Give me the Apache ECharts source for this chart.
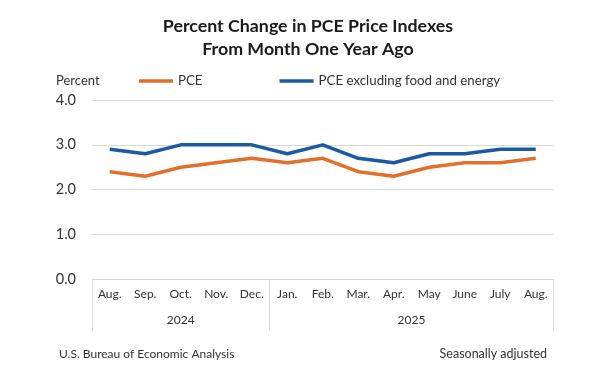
<!DOCTYPE html>
<html><head><meta charset="utf-8">
<script src="https://cdn.jsdelivr.net/npm/echarts@6/dist/echarts.min.js"></script>
<style>html,body{margin:0;padding:0;background:#fff}#c{width:600px;height:385px}</style>
</head><body><div id="c"></div>
<script>
const months = ['Aug.','Sep.','Oct.','Nov.','Dec.','Jan.','Feb.','Mar.','Apr.','May','June','July','Aug.'];
const years = ['2024','2025'];
const yearCounts = [5, 8];
const pce = [2.4,2.3,2.5,2.6,2.7,2.6,2.7,2.4,2.3,2.5,2.6,2.6,2.7];
const core = [2.9,2.8,3.0,3.0,3.0,2.8,3.0,2.7,2.6,2.8,2.8,2.9,2.9];
const yMin = 0, yMax = 4, yStep = 1;

const bounds = [0];
yearCounts.forEach(c => bounds.push(bounds[bounds.length-1] + c));
const centers = years.map((y,i) => (bounds[i] + bounds[i+1]) / 2);

const FONT = 'Lato';
const TXT = '#333333';
const GRID = '#d9d9d9';

const chart = echarts.init(document.getElementById('c'), null, {renderer:'canvas'});
chart.setOption({
  animation: false,
  textStyle: {fontFamily: FONT},
  title: [
    {text: 'Percent Change in PCE Price Indexes\nFrom Month One Year Ago', left: 308, top: 15, textAlign: 'center', padding: 0,
     textStyle: {fontFamily: FONT, fontWeight: 'bold', fontSize: 17.8, lineHeight: 23, color: '#1a1a1a'}},
    {text: 'Percent', left: 56, top: 73, padding: 0, textStyle: {fontFamily: FONT, fontWeight: 'normal', fontSize: 13, lineHeight: 16, color: TXT}},
    {text: 'U.S. Bureau of Economic Analysis', left: 59, top: 347, padding: 0, textStyle: {fontFamily: FONT, fontWeight: 'normal', fontSize: 12, lineHeight: 14, color: TXT}},
    {text: 'Seasonally adjusted', right: 53, top: 347, padding: 0, textStyle: {fontFamily: FONT, fontWeight: 'normal', fontSize: 12.5, lineHeight: 14, color: TXT}}
  ],
  legend: {
    left: 139, top: 73, padding: 0, itemGap: 77, itemWidth: 34, itemHeight: 3.5, icon: 'rect',
    textStyle: {fontFamily: FONT, fontSize: 13.3, color: TXT, lineHeight: 16},
    data: ['PCE', 'PCE excluding food and energy']
  },
  grid: {left: 92, right: 46.5, top: 100, bottom: 105.7, containLabel: false},
  xAxis: [
    {type: 'category', data: months, boundaryGap: true,
     axisLine: {show: true, lineStyle: {color: GRID, width: 1}},
     axisTick: {show: false},
     axisLabel: {fontFamily: FONT, fontSize: 12, color: TXT, margin: 9, interval: 0}},
    {type: 'value', min: bounds[0], max: bounds[bounds.length-1], position: 'bottom',
     axisLine: {show: false}, splitLine: {show: false},
     axisTick: {show: true, customValues: bounds, length: 51, lineStyle: {color: GRID, width: 1}},
     axisLabel: {show: true, customValues: centers, margin: 35, fontFamily: FONT, fontSize: 12, color: TXT,
       formatter: v => years[centers.indexOf(v)]}}
  ],
  yAxis: {type: 'value', min: yMin, max: yMax, interval: yStep,
    axisLine: {show: false}, axisTick: {show: false},
    splitLine: {lineStyle: {color: GRID, width: 1}},
    axisLabel: {fontFamily: FONT, fontSize: 14.5, color: TXT, margin: 16, formatter: v => v.toFixed(1)}},
  series: [
    {name: 'PCE', type: 'line', data: pce, color: '#E2702B', showSymbol: false, symbol: 'none',
     lineStyle: {width: 3.5, color: '#E2702B'}, xAxisIndex: 0},
    {name: 'PCE excluding food and energy', type: 'line', data: core, color: '#1B5AA3', showSymbol: false, symbol: 'none',
     lineStyle: {width: 3.5, color: '#1B5AA3'}, xAxisIndex: 0}
  ]
});
</script></body></html>
